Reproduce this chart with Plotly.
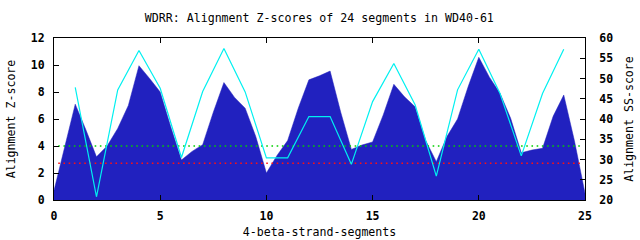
import plotly.graph_objects as go

# Z-score profile (left axis), sampled every half segment
z_x = [i * 0.5 for i in range(51)]
z_values = [0.7, 3.9, 7.1, 5.2, 3.2, 4.0, 5.3, 7.0, 9.95, 9.0,
            8.0, 5.4, 2.96, 3.6, 4.1, 6.5, 8.7, 7.6, 6.8, 4.7,
            2.0, 3.3, 4.4, 6.8, 8.9, 9.2, 9.55, 6.5, 3.75, 4.07,
            4.3, 6.3, 8.57, 7.65, 6.9, 4.4, 2.84, 4.7, 6.0, 8.4,
            10.57, 9.1, 7.9, 6.05, 3.5, 3.7, 3.83, 6.2, 7.78, 4.4,
            0.5]

# SS-score per segment (right axis)
ss_x = list(range(1, 25))
ss_values = [47.8, 20.8, 47.2, 56.9, 47.6, 30.5, 46.8, 57.4, 46.7, 30.4,
             30.4, 40.6, 40.6, 28.8, 44.3, 53.7, 43.5, 25.9, 47.2, 57.2,
             46.3, 30.9, 46.3, 57.2]

# threshold lines (Z-score units)
thr_x = [0.2, 24.8]
green_thr = 4.0
red_thr = 2.72

title_text = "WDRR: Alignment Z-scores of 24 segments in WD40-61"
x_title = "4-beta-strand-segments"
y_title = "Alignment Z-score"
y2_title = "Alignment SS-score"

FONT = "DejaVu Sans Mono"

fig = go.Figure()
fig.add_trace(go.Scatter(x=z_x, y=z_values, mode="lines", fill="tozeroy",
                         fillcolor="#2121bf", line=dict(color="#2121bf", width=0.5),
                         hoverinfo="skip", showlegend=False))
fig.add_trace(go.Scatter(x=ss_x, y=ss_values, mode="lines", yaxis="y2",
                         line=dict(color="#00f0f0", width=1.2),
                         showlegend=False))
fig.add_trace(go.Scatter(x=thr_x, y=[green_thr, green_thr], mode="lines",
                         line=dict(color="#00d000", width=1.6, dash="1.6px,3.6px"),
                         showlegend=False))
fig.add_trace(go.Scatter(x=thr_x, y=[red_thr, red_thr], mode="lines",
                         line=dict(color="#ff1010", width=1.6, dash="1.6px,3.6px"),
                         showlegend=False))

tickfont = dict(family=FONT, size=11.5, color="black", weight="bold")
titlefont = dict(family=FONT, size=11.6, color="black")

fig.update_layout(
    width=640, height=240,
    margin=dict(l=54, r=55, t=38, b=40, autoexpand=False),
    paper_bgcolor="white", plot_bgcolor="white",
    title=dict(text=title_text, x=0.499, xanchor="center", y=0.924, yanchor="middle",
               font=dict(family=FONT, size=11.6, color="black")),
    xaxis=dict(range=[0, 25], dtick=5, tick0=0, showgrid=False, zeroline=False,
               showline=True, linecolor="black", linewidth=1, mirror="ticks",
               ticks="inside", ticklen=5, tickcolor="black", tickfont=tickfont,
               ticklabelstandoff=5, automargin=False,
               title=dict(text=x_title, font=titlefont, standoff=6)),
    yaxis=dict(range=[0, 12], dtick=2, tick0=0, showgrid=False, zeroline=False,
               showline=True, linecolor="black", linewidth=1,
               ticks="inside", ticklen=5, tickcolor="black", tickfont=tickfont,
               ticklabelstandoff=6, automargin=False,
               title=dict(text=y_title, font=titlefont, standoff=12)),
    yaxis2=dict(range=[20, 60], dtick=5, tick0=20, overlaying="y", side="right",
                showgrid=False, zeroline=False, showline=True, linecolor="black",
                linewidth=1, ticks="inside", ticklen=5, tickcolor="black",
                tickfont=tickfont, ticklabelstandoff=11, automargin=False,
                title=dict(text=y2_title, font=titlefont, standoff=12)),
)

fig.write_html("out.html")
